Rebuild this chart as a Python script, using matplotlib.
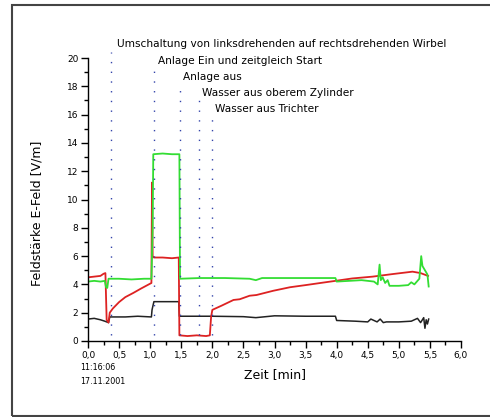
import numpy as np
import matplotlib.pyplot as plt
from matplotlib.patches import Rectangle
from matplotlib.ticker import MultipleLocator, FuncFormatter

# green trace
green_t = [0.0, 0.1, 0.2, 0.27, 0.29, 0.31, 0.33, 0.5, 0.7, 0.9, 1.02, 1.04, 1.05, 1.2, 1.35, 1.47, 1.48,
           1.8, 2.2, 2.6, 2.7, 2.8, 3.2, 3.6, 3.98, 4.0, 4.2, 4.4, 4.6, 4.66, 4.69, 4.71, 4.74, 4.78,
           4.82, 4.85, 5.0, 5.15, 5.2, 5.25, 5.3, 5.33, 5.36, 5.38, 5.42, 5.46, 5.48]
green_v = [4.2, 4.25, 4.2, 4.25, 3.8, 3.75, 4.4, 4.4, 4.35, 4.4, 4.4, 8.0, 13.2, 13.25, 13.2, 13.2, 4.4,
           4.45, 4.45, 4.4, 4.3, 4.45, 4.45, 4.45, 4.45, 4.2, 4.25, 4.3, 4.2, 4.0, 5.4, 4.3, 4.5, 4.1,
           4.3, 3.9, 3.9, 3.95, 4.15, 4.0, 4.25, 4.4, 6.0, 5.3, 5.0, 4.7, 3.85]

# red trace
red_t = [0.0, 0.1, 0.2, 0.25, 0.28, 0.3, 0.33, 0.35, 0.4, 0.5, 0.6, 0.73, 0.85, 1.02, 1.03, 1.04, 1.06,
         1.2, 1.35, 1.46, 1.47, 1.6, 1.75, 1.9, 1.96, 1.98, 2.0, 2.15, 2.34, 2.44, 2.6, 2.71, 2.98, 3.25,
         3.5, 3.77, 3.98, 4.25, 4.58, 4.9, 5.22, 5.35, 5.47]
red_v = [4.5, 4.55, 4.6, 4.75, 4.8, 1.5, 1.3, 2.0, 2.3, 2.75, 3.1, 3.4, 3.7, 4.1, 11.2, 6.0, 5.9,
         5.9, 5.85, 5.9, 0.4, 0.35, 0.4, 0.35, 0.4, 1.7, 2.2, 2.5, 2.9, 2.95, 3.2, 3.25, 3.55, 3.8,
         3.95, 4.12, 4.25, 4.42, 4.55, 4.73, 4.9, 4.8, 4.6]

# black trace
black_t = [0.0, 0.1, 0.2, 0.27, 0.3, 0.33, 0.35, 0.6, 0.8, 1.02, 1.03, 1.06, 1.3, 1.46, 1.47, 2.0, 2.5,
           2.7, 3.0, 3.5, 3.98, 4.0, 4.3, 4.5, 4.55, 4.65, 4.7, 4.75, 4.8, 5.0, 5.2, 5.3, 5.35, 5.4,
           5.42, 5.44, 5.46, 5.48]
black_v = [1.55, 1.6, 1.5, 1.4, 1.35, 1.3, 1.7, 1.7, 1.75, 1.7, 2.2, 2.78, 2.78, 2.78, 1.75, 1.75, 1.72,
           1.65, 1.78, 1.75, 1.75, 1.45, 1.4, 1.35, 1.55, 1.35, 1.55, 1.3, 1.35, 1.35, 1.4, 1.6, 1.3, 1.65,
           0.9, 1.5, 1.2, 1.55]

# event markers
event_t = [0.37, 1.06, 1.48, 1.79, 1.99]
event_top = [20.4, 19.2, 18.2, 17.1, 16.0]
event_text = ["Umschaltung von linksdrehenden auf rechtsdrehenden Wirbel",
              "Anlage Ein und zeitgleich Start",
              "Anlage aus",
              "Wasser aus oberem Zylinder",
              "Wasser aus Trichter"]
event_dx = [0.1, 0.06, 0.05, 0.05, 0.06]
event_y = [21.0, 19.8, 18.65, 17.5, 16.4]

fig = plt.figure(figsize=(4.9, 4.17), dpi=100)
fig.patches.append(Rectangle((12/490, 1/417), 1.2, 411/417,
                             transform=fig.transFigure, fill=False, edgecolor='#444444', lw=1.5))

ax = fig.add_axes([88/490, 1 - 341/417, 373/490, 283/417])
ax.plot(black_t, black_v, color='#222222', lw=1.1)
ax.plot(red_t, red_v, color='#dd2222', lw=1.3)
ax.plot(green_t, green_v, color='#33dd33', lw=1.3)

for t, top, txt, dx, ty in zip(event_t, event_top, event_text, event_dx, event_y):
    ax.plot([t, t], [0.4, top], color='#3344aa', lw=1.0, linestyle=(0, (1, 6)), clip_on=False)
    ax.text(t + dx, ty, txt, fontsize=7.6, va='center', ha='left', clip_on=False)

ax.set_xlim(0, 6)
ax.set_ylim(0, 20)
for s in ['top', 'right']:
    ax.spines[s].set_visible(False)
ax.spines['left'].set_linewidth(1.0)
ax.spines['bottom'].set_linewidth(1.0)
ax.xaxis.set_major_locator(MultipleLocator(0.5))
ax.xaxis.set_minor_locator(MultipleLocator(0.25))
ax.yaxis.set_major_locator(MultipleLocator(2))
ax.yaxis.set_minor_locator(MultipleLocator(1))
ax.xaxis.set_major_formatter(FuncFormatter(lambda v, p: f"{v:.1f}".replace('.', ',')))
ax.tick_params(which='major', direction='out', length=5, width=1, labelsize=6.5, pad=2)
ax.tick_params(which='minor', direction='out', length=3, width=1)

ax.set_xlabel("Zeit [min]", fontsize=9, labelpad=6)
ax.set_ylabel("Feldstärke E-Feld [V/m]", fontsize=9)
ax.yaxis.set_label_coords(-0.12, 0.45)

fig.text(80/490, 1 - 368/417, "11:16:06", fontsize=5.8, va='center')
fig.text(80/490, 1 - 381/417, "17.11.2001", fontsize=5.8, va='center')

fig.savefig("out.png", dpi=100)
